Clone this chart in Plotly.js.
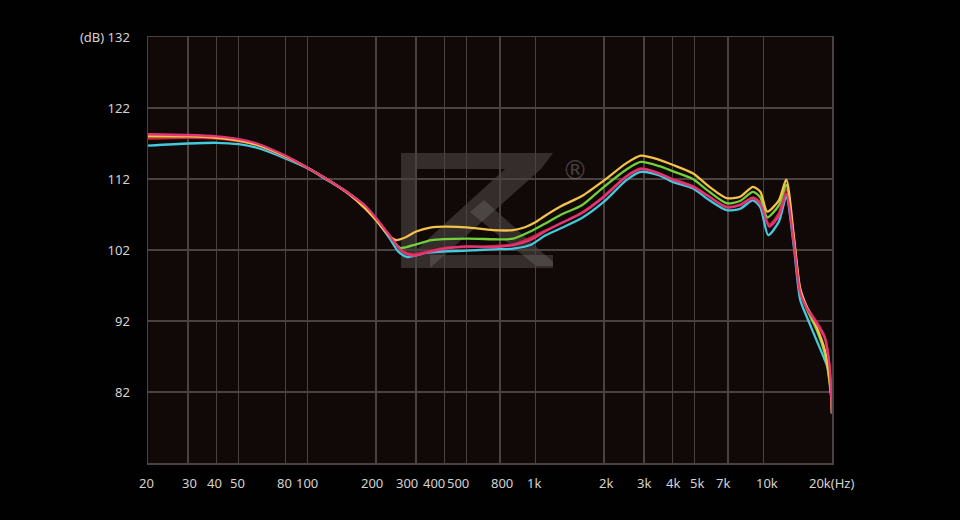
<!DOCTYPE html>
<html>
<head>
<meta charset="utf-8">
<script src="https://cdn.plot.ly/plotly-3.0.1.min.js"></script>
<style>html,body{margin:0;padding:0;background:#020101;}#chart{width:960px;height:520px;}</style>
</head>
<body>
<div id="chart"></div>
<script>
// Frequency response data (Hz, dB)
const yellowF = [20,30,40,50,60,80,100,120,150,180,200,230,245,270,300,350,400,500,650,800,900,1000,1100,1300,1600,2000,2500,2900,3500,4000,4900,5800,6900,7900,9000,9700,10400,11700,12600,13600,14500,15500,17100,18600,19800,20000];
const yellowDB = [118.0,118.0,117.8,117.4,116.8,115.2,113.6,112.1,110.0,107.8,106.2,103.9,103.4,103.8,104.6,105.2,105.3,105.2,104.8,104.8,105.2,105.9,106.8,108.2,109.6,111.8,114.2,115.3,114.7,114.0,112.8,110.9,109.3,109.5,110.9,110.2,107.4,109.0,111.9,104.0,96.6,94.0,91.2,87.9,81.8,79.0];

const greenF = [20,30,40,50,60,80,100,120,150,180,200,230,255,300,350,500,700,800,950,1100,1300,1600,2000,2500,2900,3500,4000,4900,5800,6900,7900,9000,9700,10400,11700,12600,13600,14500,15500,17100,18600,19800,20000];
const greenDB = [118.1,118.1,117.9,117.5,116.9,115.2,113.6,112.1,110.1,108.0,106.3,104.0,102.3,102.8,103.4,103.6,103.5,103.6,104.6,105.7,107.0,108.3,110.9,113.3,114.4,113.8,113.1,112.0,110.2,108.6,108.9,110.2,109.4,106.6,108.3,111.2,103.6,96.3,93.7,90.8,87.4,81.5,79.0];

const pinkF = [20,30,40,50,60,80,100,120,150,180,200,230,260,290,330,400,500,650,800,950,1100,1300,1600,2000,2500,2900,3500,4000,4900,5800,6900,7900,9000,9700,10600,11700,12600,13600,14500,15500,17100,18600,19500,20000];
const pinkDB = [118.3,118.2,118.0,117.6,117.0,115.3,113.6,112.1,110.1,108.2,106.5,104.0,101.8,101.2,101.6,102.2,102.5,102.4,102.7,103.4,104.6,105.8,107.2,109.5,112.3,113.4,112.8,111.9,110.9,109.5,108.0,108.3,109.3,108.5,105.3,106.8,109.9,103.0,96.0,93.8,91.7,89.6,85.6,79.0];

const redF = [20,30,40,50,60,80,100,150,200,230,260,290,400,800,1100,1600,2000,2500,2900,4000,4900,6900,7900,9000,9700,10600,11700,12600,13600,14500,15500,17100,18600,19500,20000];
const redDB = [117.7,117.8,117.7,117.3,116.8,115.1,113.6,110.1,106.4,103.9,101.9,101.4,102.3,102.8,104.7,107.3,109.6,112.4,113.5,112.0,111.0,108.1,108.4,109.4,108.7,105.6,107.2,110.6,103.2,96.2,94.0,91.9,89.8,85.8,79.0];

const cyanF = [20,30,40,50,60,80,100,120,150,180,200,230,250,275,330,400,500,650,800,950,1100,1300,1600,2000,2500,2900,3500,4000,4900,5800,6900,7900,9000,9700,10500,11700,12600,13600,14500,15500,17100,18600,19500,20000];
const cyanDB = [116.7,117.0,117.1,116.9,116.4,114.9,113.5,112.0,110.1,108.0,106.3,103.6,101.8,101.0,101.6,101.8,101.9,102.1,102.2,102.7,104.0,105.1,106.5,108.8,111.8,113.0,112.5,111.6,110.7,109.0,107.6,107.8,109.0,108.0,104.1,106.0,109.5,102.5,95.0,92.6,89.3,86.5,84.5,79.0];

// x axis gridlines and labels as printed in the reference (the "800" line sits where the chart draws it)
const xTickVals = [20,30,40,50,80,100,200,300,400,500,700,1000,2000,3000,4000,5000,7000,10000,20000];
const xTickText = ['20','30','40','50','80','100','200','300','400','500','800','1k','2k','3k','4k','5k','7k','10k','20k(Hz)'];
const xLabelNudge = [-2,1,-2,-1,-1,0,-4,-9,-11,-9,2,-1,2,0,0,2,-5,4,-1];
const yTickVals = [82,92,102,112,122,132];
const yTickText = ['82','92','102','112','122','(dB) 132'];

function tr(x, y, color) {
  return {x: x, y: y, type: 'scatter', mode: 'lines',
    line: {color: color, width: 2.3, shape: 'spline', smoothing: 0.7},
    hoverinfo: 'skip', showlegend: false};
}

const data = [
  tr(cyanF, cyanDB, '#45c9dc'),
  tr(redF, redDB, '#c9283a'),
  tr(greenF, greenDB, '#72d03a'),
  tr(yellowF, yellowDB, '#f2c24a'),
  tr(pinkF, pinkDB, '#e33478')
];

// watermark (KZ logo) in paper coords
const wm = 'rgba(125,118,118,0.33)';
function px(x){return (x-148)/684;}
function py(y){return (463-y)/426;}
function poly(pts){return 'M' + pts.map(p => px(p[0]).toFixed(4)+','+py(p[1]).toFixed(4)).join(' L') + ' Z';}
const logoShapes = [
  poly([[401,153],[416,153],[416,268],[401,268]]),
  poly([[416,153],[553,153],[541,169],[416,169]]),
  poly([[541,169],[505,169],[416,250],[416,268],[430,268]]),
  poly([[430,255],[553,255],[553,268],[430,268]]),
  poly([[470,212],[484,200],[553,262],[553,266],[536,266]])
].map(p => ({type:'path', xref:'paper', yref:'paper', path:p, fillcolor: wm, line:{width:0}, layer:'below'}));

const xLabels = xTickVals.map((v, i) => ({
  xref: 'x', yref: 'paper', x: Math.log10(v), y: 0, yanchor: 'middle', xanchor: 'center',
  yshift: -20, xshift: xLabelNudge[i], text: xTickText[i], showarrow: false,
  font: {size: 13, color: '#d6d2d0', family: 'Noto Sans, sans-serif'}
}));

const layout = {
  width: 960, height: 520,
  margin: {l: 148, r: 128, t: 37, b: 57},
  paper_bgcolor: '#020101',
  plot_bgcolor: '#110908',
  font: {family: 'Noto Sans, sans-serif', color: '#d6d2d0', size: 13},
  xaxis: {
    type: 'log', range: [Math.log10(20), Math.log10(20000)],
    tickvals: xTickVals, showticklabels: false,
    showgrid: true, gridcolor: '#4a4240', gridwidth: 1.5,
    zeroline: false, showline: true, linecolor: '#4a4240', linewidth: 1.5, mirror: true,
    ticks: ''
  },
  yaxis: {
    range: [72, 132], tickvals: yTickVals, ticktext: yTickText,
    showgrid: true, gridcolor: '#4a4240', gridwidth: 1.5,
    zeroline: false, showline: true, linecolor: '#4a4240', linewidth: 1.5, mirror: true,
    ticks: '', ticklabelstandoff: 14, tickfont: {size: 13, color: '#d6d2d0'}
  },
  shapes: logoShapes,
  annotations: xLabels.concat([{
    xref: 'paper', yref: 'paper', x: px(575), y: py(153), text: '®', showarrow: false,
    font: {size: 26, color: 'rgba(140,132,132,0.45)', family: 'DejaVu Sans'}
  }])
};

Plotly.newPlot('chart', data, layout, {displayModeBar: false, staticPlot: true});
</script>
</body>
</html>
